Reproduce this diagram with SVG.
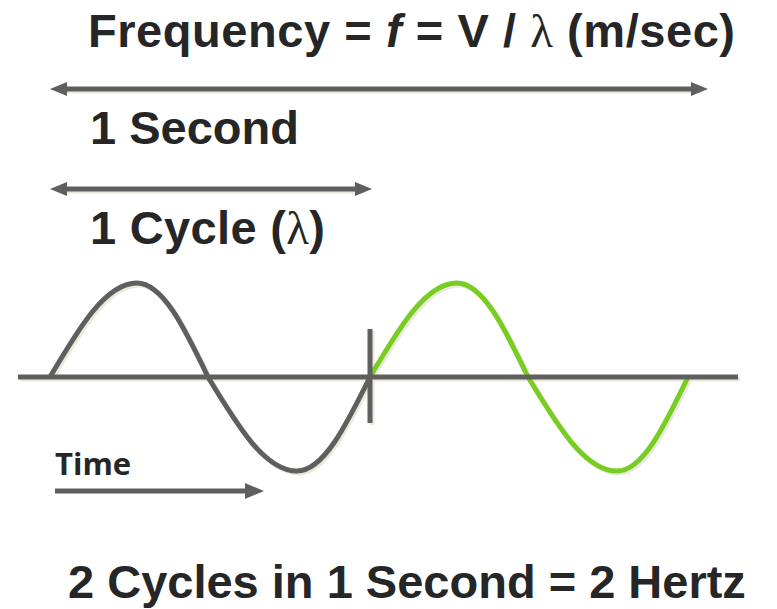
<svg xmlns="http://www.w3.org/2000/svg" width="777" height="609" viewBox="0 0 777 609">
<style>
.t{font-family:"Liberation Sans",Arial,sans-serif;font-weight:bold;fill:#262626;font-size:47px}
.lam{font-family:"Liberation Serif","Times New Roman",serif;font-weight:normal}
.ln{stroke:#5f5f5f;stroke-width:5;fill:none}
.sh{stroke:#ebe8dc;stroke-width:5;fill:none}
.hd{fill:#5f5f5f}
.g{stroke:#78cd22;stroke-width:5;fill:none}
</style>
<rect width="777" height="609" fill="#ffffff"/>
<g id="title"><text class="t" x="88" y="47" textLength="647" lengthAdjust="spacing">Frequency = <tspan font-style="italic">f</tspan> = V / <tspan class="lam">λ</tspan> (m/sec)</text></g>
<g id="connectors">
  <line class="sh" x1="66" y1="91" x2="692" y2="91"/>
  <line class="ln" x1="64" y1="89" x2="694" y2="89"/>
  <polygon class="hd" points="50,89 67,82 67,96"/>
  <polygon class="hd" points="708,89 691,82 691,96"/>
  <line class="sh" x1="66" y1="191" x2="356" y2="191"/>
  <line class="ln" x1="64" y1="189" x2="358" y2="189"/>
  <polygon class="hd" points="50,189 67,182 67,196"/>
  <polygon class="hd" points="372,189 355,182 355,196"/>
  <line class="ln" x1="55" y1="491" x2="248" y2="491"/>
  <polygon class="hd" points="264,491 245,483 245,499"/>
</g>
<g id="label-second"><text class="t" x="90" y="144">1 Second</text></g>
<g id="label-cycle"><text class="t" x="90" y="244" textLength="235" lengthAdjust="spacing">1 Cycle (<tspan class="lam">λ</tspan>)</text></g>
<g id="wave">
  <g transform="translate(2,2)">
    <path class="sh" d="M50,377 C79.1,327.6 105.7,283 137,283 C162.6,283 184.3,327.6 208,377 C237.8,426.4 265,471 297,471 C323.3,471 345.6,426.4 370,377"/>
    <path class="sh" d="M370,377 C399.1,327.6 425.7,283 457,283 C482.6,283 504.3,327.6 528,377 C557.8,426.4 585,471 617,471 C642.6,471 664.3,426.4 688,377"/>
    <line class="sh" x1="18" y1="377" x2="738" y2="377"/>
    <line class="sh" x1="370" y1="329" x2="370" y2="423"/>
  </g>
  <path class="ln" d="M50,377 C79.1,327.6 105.7,283 137,283 C162.6,283 184.3,327.6 208,377 C237.8,426.4 265,471 297,471 C323.3,471 345.6,426.4 370,377"/>
  <path class="g" d="M370,377 C399.1,327.6 425.7,283 457,283 C482.6,283 504.3,327.6 528,377 C557.8,426.4 585,471 617,471 C642.6,471 664.3,426.4 688,377"/>
  <line class="ln" x1="18" y1="377" x2="738" y2="377"/>
  <line class="ln" x1="370" y1="329" x2="370" y2="423"/>
</g>
<g id="label-time"><text x="55" y="475" font-size="31" font-family="'Open Sans','Liberation Sans',sans-serif" font-weight="bold" fill="#262626">Time</text></g>
<g id="footer"><text class="t" x="68" y="598">2 Cycles in 1 Second = 2 Hertz</text></g>
</svg>
